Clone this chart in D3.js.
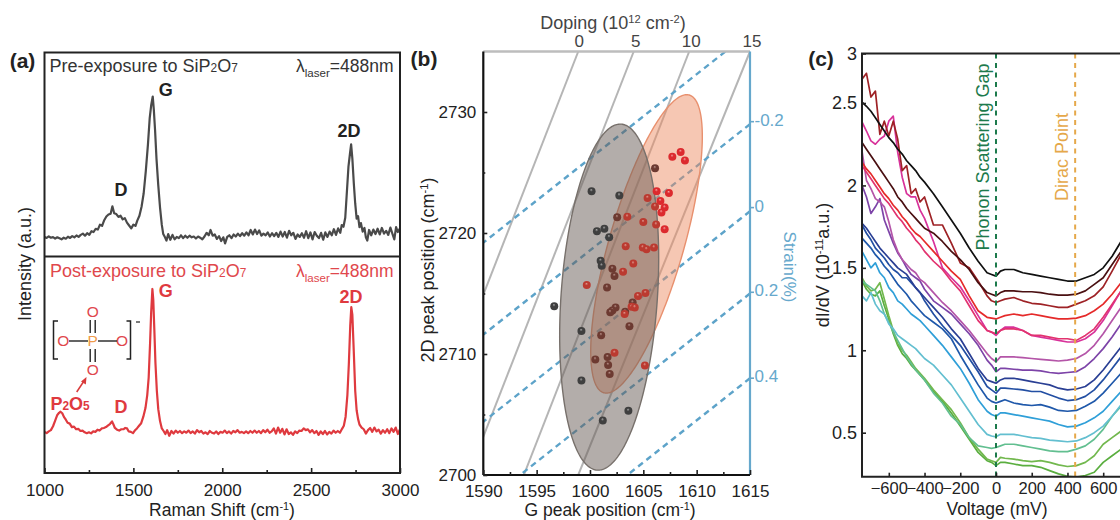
<!DOCTYPE html>
<html><head><meta charset="utf-8">
<script src="https://cdn.jsdelivr.net/npm/d3@7"></script>
<style>
html,body{margin:0;padding:0;background:#fff;overflow:hidden}
svg{display:block}
text{font-family:"Liberation Sans",Arial,sans-serif}
</style></head><body>
<svg id="c" width="1120" height="520"></svg>
<script>
// ---------- panel (a) data: [Raman shift, intensity a.u.]
const preSpectrum=[[1000,9.6],[1012,9.1],[1024,9.9],[1036,9.2],[1048,9.5],[1060,8.8],[1072,9.4],[1084,8.9],[1096,8.4],[1108,9.2],[1120,8.7],[1132,9.7],[1144,9.1],[1156,10],[1168,9.4],[1180,10.3],[1192,9.6],[1204,10.6],[1216,11.2],[1228,10.2],[1240,11.4],[1252,10.6],[1264,12.4],[1276,12],[1288,13.6],[1300,13.2],[1312,15.6],[1324,15],[1336,17.8],[1348,19.6],[1360,20.6],[1372,21],[1382,24.6],[1392,21.2],[1404,20.8],[1416,19.4],[1428,20],[1440,18.2],[1452,18.8],[1464,16.6],[1476,15.2],[1488,13.8],[1500,15.6],[1512,15],[1522,17.6],[1534,20],[1546,24.4],[1558,31],[1570,42],[1582,55],[1592,68],[1600,74],[1609,78.4],[1615,72],[1622,62],[1630,48],[1640,35],[1650,24],[1660,15.5],[1668,11],[1678,9.4],[1686,7.8],[1696,11],[1708,8.2],[1720,10.6],[1732,8.4],[1744,9.6],[1756,9],[1768,10.4],[1780,9],[1792,10.2],[1804,9.2],[1816,10.2],[1828,9.4],[1840,9.8],[1852,8.8],[1864,9.8],[1876,9.2],[1888,8.4],[1900,9.8],[1912,11.6],[1924,10.4],[1934,13],[1946,10.2],[1958,10.8],[1970,8.6],[1982,10],[1994,7.6],[2006,9.4],[2016,6.4],[2028,9.6],[2040,10.4],[2052,9],[2064,10.8],[2076,9.8],[2088,11.2],[2100,10],[2112,11.4],[2124,10.2],[2136,11.8],[2148,10.4],[2160,13],[2172,10.8],[2184,13.2],[2196,11],[2208,12.8],[2220,10.2],[2232,11.2],[2244,10.4],[2256,11.8],[2268,9.8],[2280,11.4],[2292,10],[2304,11.6],[2316,9.6],[2328,12.2],[2340,9.8],[2352,12],[2364,9.2],[2376,12.6],[2388,10.4],[2400,11.6],[2412,8.6],[2424,10.8],[2436,9.6],[2448,11.4],[2460,9.2],[2472,12.4],[2484,9],[2496,11.8],[2508,8.4],[2520,12],[2532,10.2],[2544,9],[2556,11.6],[2568,8.2],[2580,11.8],[2592,9.6],[2604,12.2],[2616,10.4],[2628,13.4],[2640,10.6],[2652,13.8],[2664,11.6],[2672,15.4],[2682,14.6],[2692,19],[2700,30],[2710,44],[2718,50],[2725,55],[2732,48],[2740,36],[2748,26],[2756,18.6],[2764,19.8],[2772,14.4],[2780,16.4],[2790,12.2],[2800,14],[2808,9.4],[2816,7.8],[2826,13],[2838,10.4],[2850,13.2],[2862,11],[2874,13.6],[2886,10.8],[2898,14],[2910,11.2],[2922,12.6],[2934,10.6],[2946,14.2],[2958,11],[2968,8.4],[2978,14.4],[2988,12],[3000,13.8]];
const postSpectrum=[[1000,19],[1012,18.4],[1024,19.2],[1036,19.8],[1048,21.6],[1060,24.2],[1072,26.8],[1082,27.8],[1090,28.3],[1100,27.6],[1110,25.8],[1120,24.6],[1130,23.2],[1142,22.8],[1154,21.2],[1166,21.4],[1178,20.2],[1190,20.4],[1202,19.4],[1214,19.6],[1226,18.8],[1238,18.4],[1250,18.8],[1262,18.3],[1274,19.2],[1286,19],[1298,20],[1310,19.6],[1322,20.6],[1334,20.8],[1346,21.2],[1358,22],[1368,22.6],[1380,23.8],[1388,22.4],[1396,20.8],[1408,20],[1420,19.6],[1432,20.2],[1444,20.2],[1454,20.8],[1464,20.6],[1474,19.2],[1486,19],[1498,18.4],[1508,19.6],[1520,20.6],[1532,21.8],[1544,23],[1556,26],[1568,30],[1578,36],[1586,44],[1594,60],[1600,74],[1607,85],[1612,80],[1618,66],[1624,51],[1632,38],[1640,29.5],[1650,24],[1660,20.6],[1670,19.4],[1680,18],[1690,19.8],[1702,17.2],[1714,19.4],[1726,18.2],[1738,19.6],[1750,18.6],[1762,19.4],[1774,18.4],[1786,19.2],[1798,18.6],[1810,19.6],[1822,18.4],[1834,19.2],[1846,18.2],[1858,19.8],[1870,18.8],[1882,19.4],[1894,18.2],[1906,18.8],[1918,18],[1930,19.4],[1942,18.6],[1954,18.2],[1966,19.2],[1978,18],[1990,19],[2002,18.6],[2014,19.6],[2026,18.4],[2038,19.2],[2050,18.2],[2062,19.4],[2074,18.8],[2086,19.8],[2098,18.6],[2110,19],[2122,18.4],[2134,19.2],[2146,18.4],[2158,19.4],[2170,18.6],[2182,19.6],[2194,18.6],[2206,19.4],[2218,18.4],[2230,19.8],[2242,18.8],[2254,20],[2266,18.6],[2278,19.2],[2290,20.6],[2302,18.2],[2314,21],[2326,18.6],[2338,20.4],[2350,17.8],[2362,20.2],[2374,18],[2386,18.8],[2398,17.6],[2410,19.2],[2422,18.4],[2434,19.6],[2446,19.4],[2458,20.6],[2470,19.8],[2482,20.2],[2494,18.8],[2506,19.8],[2518,18.4],[2530,19.4],[2542,17.6],[2554,19.2],[2566,18],[2578,19.4],[2590,17.8],[2602,19],[2614,18.2],[2626,19.6],[2638,18.6],[2650,19.4],[2662,18.6],[2674,20.4],[2684,21.8],[2694,26],[2704,36],[2712,50],[2720,68],[2726,76.6],[2732,73],[2740,56],[2748,38],[2756,29],[2764,25],[2772,22.4],[2784,21],[2796,20.2],[2808,18.2],[2820,19.8],[2832,20.8],[2844,19],[2856,21],[2868,19.2],[2880,20],[2892,18.2],[2904,19.8],[2916,18.6],[2928,20.2],[2940,18.4],[2952,20.6],[2964,19],[2976,21],[2988,18],[3000,20.2]];
const ramanTicks=[1000,1500,2000,2500,3000];
const ramanMinorTicks=[1250,1750,2250,2750];

// ---------- panel (b) data
const darkG=[1606.1,1600.15,1602.75,1602.55,1601.35,1600.65,1601.8,1601.0,1601.1,1602.1,1602.3,1601.6,1596.65,1604.0,1602.4,1602.1,1601.9,1603.3,1603.7,1599.2,1601.05,1600.5,1601.65,1601.7,1601.85,1599.2,1603.6,1601.2];
const dark2D=[2725.35,2723.45,2723.1,2721.3,2720.35,2720.15,2719.65,2717.7,2717.3,2717.05,2716.45,2715.5,2713.95,2714.25,2713.85,2713.6,2713.45,2713.5,2712.3,2711.9,2711.55,2709.55,2709.75,2709.1,2708.35,2707.8,2705.3,2704.5];
const redG=[1607.72,1608.5,1608.9,1606.25,1607.4,1605.4,1606.6,1606.1,1607.0,1606.7,1603.5,1605.0,1606.2,1607.0,1603.35,1604.95,1605.3,1606.0,1604.06,1603.1,1599.7,1604.5,1605.2,1603.9,1604.2,1603.25,1602.3,1605.15];
const red2D=[2726.3,2726.7,2726.0,2723.45,2723.3,2722.9,2722.65,2722.2,2722.1,2721.7,2721.35,2720.9,2720.7,2720.3,2718.9,2718.8,2718.65,2718.8,2717.47,2716.8,2715.7,2714.8,2715.05,2713.9,2713.85,2713.3,2710.1,2709.05];
const dopingLabels=[0,5,10,15];
const dopingTopG=[1598.9,1604.1,1609.3,1615];
const dopingBottomG=[1583.4,1588.6,1593.8,1598.9];
const strainLabels=["",-0.2,0,0.2,0.4];
const strainRight2D=[2736.6,2729,2721.8,2715,2708];
const strainLeft2D=[2719.2,2711.6,2704.4,2697.6,2690.6];
const strainLabel2D=[null,2729.2,2722.1,2715.1,2708];
const gTicks=[1590,1595,1600,1605,1610,1615];
const gMinorTicks=[1592.5,1597.5,1602.5,1607.5,1612.5];
const peak2DTicks=[2700,2710,2720,2730];
const peak2DMinorTicks=[2705,2715,2725];
// ellipse: centre G, centre 2D, half-width, half-height, correlation
const grayEllipse=[1601.8,2714.7,4.64,14.3,0.222];
const salmonEllipse=[1605.3,2719.1,5.23,12.33,0.72];

// ---------- panel (c) data
const voltage=[-750,-725,-700,-675,-650,-625,-600,-575,-550,-525,-500,-475,-450,-425,-400,-350,-300,-250,-200,-150,-100,-50,-25,0,25,50,100,150,200,250,300,350,400,450,500,550,600,650,700];
const blackDIdV=[2.51,2.48,2.45,2.41,2.37,2.33,2.29,2.26,2.22,2.19,2.15,2.12,2.09,2.05,2.02,1.95,1.87,1.79,1.71,1.62,1.54,1.47,1.46,1.45,1.48,1.49,1.49,1.47,1.46,1.45,1.44,1.43,1.42,1.42,1.44,1.46,1.50,1.57,1.66];
const maroonDIdV=[2.26,2.22,2.18,2.14,2.10,2.06,2.02,1.98,1.93,1.90,1.86,1.83,1.80,1.77,1.74,1.71,1.66,1.60,1.55,1.49,1.41,1.35,1.34,1.33,1.35,1.36,1.36,1.355,1.355,1.35,1.34,1.335,1.335,1.34,1.36,1.40,1.44,1.52,1.60];
const brownDIdV=[2.74,2.80,2.56,2.62,2.31,2.39,2.30,2.39,2.28,2.09,2.12,1.95,1.98,1.90,1.93,1.76,1.76,1.65,1.53,1.50,1.42,1.33,1.30,1.29,1.30,1.31,1.32,1.30,1.285,1.28,1.27,1.26,1.26,1.28,1.30,1.33,1.385,1.48,1.58];
const redDIdV=[2.14,2.10,2.07,2.03,1.99,1.95,1.92,1.88,1.85,1.81,1.78,1.74,1.71,1.69,1.66,1.60,1.54,1.48,1.43,1.33,1.24,1.20,1.195,1.19,1.20,1.21,1.22,1.21,1.22,1.21,1.20,1.19,1.19,1.195,1.21,1.24,1.28,1.34,1.41];
const pinkDIdV=[2.12,2.08,2.04,2.00,1.96,1.92,1.89,1.85,1.81,1.78,1.74,1.71,1.67,1.64,1.60,1.54,1.49,1.42,1.36,1.27,1.18,1.12,1.11,1.10,1.12,1.13,1.13,1.12,1.09,1.09,1.08,1.07,1.07,1.06,1.09,1.13,1.20,1.28,1.36];
const magentaDIdV=[2.385,2.33,2.27,2.25,2.28,2.30,2.39,2.42,2.20,2.05,1.95,1.93,1.93,1.85,1.80,1.66,1.50,1.44,1.385,1.30,1.21,1.12,1.11,1.09,1.12,1.14,1.14,1.12,1.09,1.08,1.07,1.06,1.05,1.05,1.07,1.11,1.18,1.27,1.36];
const orchidDIdV=[2.21,2.03,1.98,1.92,1.90,1.87,1.78,1.67,1.60,1.55,1.52,1.49,1.47,1.43,1.41,1.35,1.29,1.24,1.18,1.12,1.05,0.98,0.95,0.93,0.96,0.96,0.96,0.955,0.95,0.945,0.94,0.935,0.94,0.95,0.98,1.03,1.10,1.18,1.26];
const purpleDIdV=[2.0,1.93,1.83,1.87,1.92,1.79,1.72,1.65,1.59,1.55,1.50,1.46,1.44,1.42,1.37,1.30,1.26,1.22,1.16,1.10,1.03,0.94,0.91,0.87,0.89,0.89,0.885,0.88,0.88,0.875,0.865,0.86,0.865,0.87,0.90,0.95,1.01,1.08,1.16];
const navyDIdV=[1.77,1.74,1.70,1.66,1.62,1.59,1.56,1.53,1.50,1.48,1.46,1.42,1.38,1.35,1.32,1.26,1.20,1.13,1.07,0.98,0.89,0.82,0.81,0.80,0.82,0.83,0.83,0.82,0.81,0.80,0.79,0.77,0.76,0.765,0.78,0.82,0.88,0.95,1.02];
const blueDIdV=[1.76,1.71,1.67,1.62,1.59,1.56,1.52,1.49,1.47,1.44,1.44,1.41,1.38,1.35,1.30,1.22,1.15,1.09,1.03,0.95,0.87,0.78,0.76,0.74,0.77,0.77,0.765,0.76,0.75,0.75,0.73,0.71,0.695,0.70,0.72,0.76,0.82,0.89,0.96];
const royalDIdV=[1.68,1.65,1.62,1.58,1.55,1.51,1.48,1.44,1.40,1.37,1.34,1.30,1.27,1.24,1.21,1.17,1.13,1.07,0.97,0.88,0.79,0.71,0.69,0.68,0.69,0.70,0.68,0.67,0.665,0.67,0.655,0.635,0.63,0.635,0.66,0.69,0.74,0.80,0.86];
const skyDIdV=[1.60,1.55,1.50,1.53,1.47,1.44,1.38,1.35,1.30,1.28,1.25,1.22,1.20,1.18,1.15,1.09,1.03,0.96,0.89,0.80,0.70,0.63,0.61,0.60,0.62,0.62,0.61,0.60,0.59,0.58,0.57,0.55,0.535,0.54,0.56,0.59,0.63,0.69,0.75];
const tealDIdV=[1.33,1.30,1.35,1.28,1.24,1.22,1.16,1.13,1.09,1.07,1.05,1.03,1.01,0.98,0.95,0.91,0.85,0.79,0.71,0.63,0.55,0.49,0.48,0.475,0.49,0.49,0.49,0.48,0.47,0.465,0.455,0.45,0.445,0.45,0.47,0.50,0.54,0.60,0.67];
const mintDIdV=[1.42,1.40,1.38,1.36,1.30,1.22,1.17,1.11,1.06,1.01,0.96,0.92,0.88,0.85,0.82,0.74,0.68,0.60,0.55,0.47,0.42,0.41,0.405,0.41,0.42,0.43,0.43,0.42,0.41,0.40,0.39,0.385,0.385,0.40,0.42,0.46,0.52,0.60,0.66];
const limeDIdV=[1.44,1.39,1.36,1.37,1.41,1.31,1.21,1.12,1.04,1.00,0.97,0.93,0.89,0.86,0.83,0.76,0.70,0.64,0.56,0.47,0.40,0.34,0.33,0.32,0.35,0.345,0.34,0.33,0.325,0.33,0.32,0.305,0.295,0.30,0.32,0.36,0.43,0.47,0.51];
const greenDIdV=[1.42,1.37,1.34,1.33,1.36,1.27,1.19,1.10,1.03,0.98,0.95,0.91,0.88,0.85,0.82,0.75,0.69,0.62,0.54,0.46,0.38,0.33,0.32,0.30,0.32,0.32,0.31,0.30,0.30,0.29,0.27,0.25,0.235,0.23,0.24,0.26,0.32,0.36,0.40];
const curveSeries=[greenDIdV,limeDIdV,mintDIdV,tealDIdV,skyDIdV,royalDIdV,blueDIdV,navyDIdV,purpleDIdV,orchidDIdV,magentaDIdV,pinkDIdV,redDIdV,brownDIdV,maroonDIdV,blackDIdV];
const curveColors=["#5aae3f","#72b84e","#62bf90","#63bfd0","#2f9fd8","#1f58aa","#234fa3","#2a3f94","#7d44a8","#b455a8","#d8329a","#e2336f","#e52a2a","#9e2226","#4a1012","#111111"];
const voltageTicks=[-600,-400,-200,0,200,400,600];
const dIdVTicks=[0.5,1,1.5,2,2.5,3];
const phononVoltage=0, diracVoltage=443;

// ---------- drawing
const svg=d3.select("#c");
const defs=svg.append("defs");
function ballGrad(id,c0,c1){const g=defs.append("radialGradient").attr("id",id).attr("cx","50%").attr("cy","50%").attr("r","55%").attr("fx","45%").attr("fy","30%");
 g.append("stop").attr("offset","0%").attr("stop-color",c0);g.append("stop").attr("offset","35%").attr("stop-color",c1);g.append("stop").attr("offset","100%").attr("stop-color",c1);}
ballGrad("ballDark","#a8a8a8","#3f3f3f");ballGrad("ballBrown","#b89088","#6d3a31");
ballGrad("ballRed","#f6a0a0","#dc2a2e");ballGrad("ballDull","#e09a90","#bb3a30");
function clip(id,x,y,w,h){defs.append("clipPath").attr("id",id).append("rect").attr("x",x).attr("y",y).attr("width",w).attr("height",h);}

const INK="#222";
function label(g,x,y,parts,o={}){
 const size=o.size||18;
 const t=g.append("text").attr("x",x).attr("y",y).attr("font-size",size).attr("fill",o.fill||INK)
  .attr("text-anchor",o.anchor||"middle").attr("font-weight",o.weight||null);
 if(o.rotate!=null)t.attr("transform",`rotate(${o.rotate} ${x} ${y})`);
 (Array.isArray(parts)?parts:[[parts]]).forEach(([s,k])=>{
  const ts=t.append("tspan").text(s);
  if(k==="sup")ts.attr("font-size",size*0.62).attr("dy",-6);
  else if(k==="sub")ts.attr("font-size",size*0.66);
  else if(k==="low")ts.attr("font-size",size*0.66).attr("dy",5);
  else if(k==="back")ts.attr("dy",6);
  else if(k==="up")ts.attr("dy",-5);
 });
 return t;
}
function styleAxis(g,color,fs){
 g.select(".domain").remove();
 g.selectAll(".tick line").attr("stroke",color).attr("stroke-width",1.6);
 g.selectAll(".tick text").attr("fill",INK).attr("font-size",fs).attr("font-family",'"Liberation Sans",Arial,sans-serif');
}

// ===== panel a
const A={l:44.5,r:400,t:52.5,m:256.5,b:473};
const ax=d3.scaleLinear().domain([1000,3000]).range([A.l,A.r]);
const ayTop=d3.scaleLinear().domain([0,100]).range([A.m,A.t]);
const ayBot=d3.scaleLinear().domain([0,100]).range([A.b,A.m]);
const pa=svg.append("g");
pa.append("path").attr("fill","none").attr("stroke","#4a4a4a").attr("stroke-width",2.2).attr("stroke-linejoin","round")
 .attr("d",d3.line().x(d=>ax(d[0])).y(d=>ayTop(d[1]))(preSpectrum));
pa.append("path").attr("fill","none").attr("stroke","#df3a3f").attr("stroke-width",2.2).attr("stroke-linejoin","round")
 .attr("d",d3.line().x(d=>ax(d[0])).y(d=>ayBot(d[1]))(postSpectrum));
pa.append("rect").attr("x",A.l).attr("y",A.t).attr("width",A.r-A.l).attr("height",A.b-A.t).attr("fill","none").attr("stroke",INK).attr("stroke-width",2);
pa.append("line").attr("x1",A.l).attr("x2",A.r).attr("y1",A.m).attr("y2",A.m).attr("stroke",INK).attr("stroke-width",2);
let axg=pa.append("g").attr("transform",`translate(0,${A.b})`).call(d3.axisBottom(ax).tickValues(ramanTicks).tickFormat(d3.format("d")).tickSize(-5).tickPadding(11));
styleAxis(axg,INK,17);
let axm=pa.append("g").attr("transform",`translate(0,${A.b})`).call(d3.axisBottom(ax).tickValues(ramanMinorTicks).tickFormat("").tickSize(-3));
styleAxis(axm,INK,17);
label(pa,49.5,72,[["Pre-exposure to SiP"],["2","sub"],["O"],["7","sub"]],{anchor:"start",fill:"#333"});
label(pa,296,72,[["λ"],["laser","low"],["=488nm","up"]],{anchor:"start",fill:"#333",size:17.5});
label(pa,50,277,[["Post-exposure to SiP"],["2","sub"],["O"],["7","sub"]],{anchor:"start",fill:"#e0474c"});
label(pa,296,277,[["λ"],["laser","low"],["=488nm","up"]],{anchor:"start",fill:"#e0474c",size:17.5});
const bold={weight:"bold",size:18};
label(pa,165.7,96,"G",bold);label(pa,121,196,"D",bold);label(pa,349,137,"2D",bold);
const rb={weight:"bold",size:18,fill:"#df3a3f"};
label(pa,165.7,297,"G",rb);label(pa,351,303,"2D",rb);label(pa,121,413,"D",rb);
label(pa,70,410,[["P"],["2","sub"],["O"],["5","sub"]],rb);
label(pa,22.5,68,"(a)",{weight:"bold",size:21,fill:"#222"});
label(pa,31,264,"Intensity (a.u.)",{rotate:-90});
label(pa,222,515.5,[["Raman Shift (cm"],["-1","sup"],[")","back"]],{size:17.5});
// molecule inset
const mo={size:15.5,fill:"#e0474c"};
label(pa,92.7,317,"O",mo);label(pa,63.3,346,"O",mo);label(pa,122,346,"O",mo);label(pa,92.7,375,"O",mo);
label(pa,92.7,346,"P",{size:15.5,fill:"#ef9b4a"});
const bonds=[[69,341,88,341],[98,341,117,341],[90.2,320,90.2,333],[95.2,320,95.2,333],[90.2,349,90.2,362],[95.2,349,95.2,362]];
pa.selectAll(".bond").data(bonds).join("line").attr("x1",d=>d[0]).attr("y1",d=>d[1]).attr("x2",d=>d[2]).attr("y2",d=>d[3]).attr("stroke","#222").attr("stroke-width",1.4);
pa.append("path").attr("fill","none").attr("stroke","#222").attr("stroke-width",1.5).attr("d","M58,321H53.5V359H58M126.5,321H130.5V359H126.5");
pa.append("line").attr("x1",136).attr("x2",140).attr("y1",322).attr("y2",322).attr("stroke","#222").attr("stroke-width",1.2);
pa.append("path").attr("fill","none").attr("stroke","#d93a3a").attr("stroke-width",1.5).attr("d","M76.7,392L84,381");
pa.append("path").attr("fill","#d93a3a").attr("d","M86.5,377L85.8,384.5L81,381.5Z");

// ===== panel b
const B={l:483.3,r:750,t:51.5,b:475};
const bx=d3.scaleLinear().domain([1590,1615]).range([B.l,B.r]);
const by=d3.scaleLinear().domain([2700,2735]).range([B.b,B.t]);
clip("clipB",B.l,B.t,B.r-B.l,B.b-B.t);
const pb=svg.append("g");
const inner=pb.append("g").attr("clip-path","url(#clipB)");
dopingTopG.forEach((g,i)=>{inner.append("line").attr("x1",bx(g)).attr("y1",by(2735)).attr("x2",bx(dopingBottomG[i])).attr("y2",by(2700)).attr("stroke","#b5b5b5").attr("stroke-width",2);});
strainRight2D.forEach((v,i)=>{inner.append("line").attr("x1",bx(1615)).attr("y1",by(v)).attr("x2",bx(1590)).attr("y2",by(strainLeft2D[i])).attr("stroke","#5da3c9").attr("stroke-width",2.4).attr("stroke-dasharray","6 4.5");});
function ellipsePath(e){const [cx,cy,hw,hh,rho]=e;
 const ts=d3.range(0,2*Math.PI+0.02,0.02);
 return d3.line().x(t=>bx(cx+hw*Math.cos(t))).y(t=>by(cy+hh*(rho*Math.cos(t)+Math.sqrt(1-rho*rho)*Math.sin(t))))(ts)+"Z";}
function inside(e,g,d){const u=(g-e[0])/e[2],v=(d-e[1])/e[3],r=e[4];return (u*u-2*r*u*v+v*v)/(1-r*r)<=1;}
inner.append("path").attr("d",ellipsePath(salmonEllipse)).attr("fill","#ec8a60").attr("fill-opacity",0.48).attr("stroke","#e8906e").attr("stroke-width",1.4);
inner.append("path").attr("d",ellipsePath(grayEllipse)).attr("fill","#675c56").attr("fill-opacity",0.5).attr("stroke","#77706b").attr("stroke-width",1.4);
inner.selectAll(".dk").data(darkG).join("circle").attr("cx",d=>bx(d)).attr("cy",(d,i)=>by(dark2D[i])).attr("r",4)
 .attr("fill",(d,i)=>inside(salmonEllipse,d,dark2D[i])?"url(#ballBrown)":"url(#ballDark)");
inner.selectAll(".rd").data(redG).join("circle").attr("cx",d=>bx(d)).attr("cy",(d,i)=>by(red2D[i])).attr("r",4)
 .attr("fill",(d,i)=>inside(grayEllipse,d,red2D[i])?"url(#ballDull)":"url(#ballRed)");
// frame
pb.append("line").attr("x1",B.l).attr("x2",B.r).attr("y1",B.t).attr("y2",B.t).attr("stroke","#bdbdbd").attr("stroke-width",2.4);
pb.append("line").attr("x1",B.r).attr("x2",B.r).attr("y1",B.t).attr("y2",B.b).attr("stroke","#66a8cc").attr("stroke-width",2.2);
pb.append("line").attr("x1",B.l).attr("x2",B.l).attr("y1",B.t).attr("y2",B.b).attr("stroke","#111").attr("stroke-width",2.2);
pb.append("line").attr("x1",B.l).attr("x2",B.r).attr("y1",B.b).attr("y2",B.b).attr("stroke","#111").attr("stroke-width",2.2);
let g1=pb.append("g").attr("transform",`translate(0,${B.b})`).call(d3.axisBottom(bx).tickValues(gTicks).tickFormat(d3.format("d")).tickSize(-5).tickPadding(10));styleAxis(g1,INK,17);
let g2=pb.append("g").attr("transform",`translate(0,${B.b})`).call(d3.axisBottom(bx).tickValues(gMinorTicks).tickFormat("").tickSize(-3));styleAxis(g2,INK,17);
let g3=pb.append("g").attr("transform",`translate(${B.l},0)`).call(d3.axisLeft(by).tickValues(peak2DTicks).tickFormat(d3.format("d")).tickSize(-4).tickPadding(7));styleAxis(g3,INK,17);
let g4=pb.append("g").attr("transform",`translate(${B.l},0)`).call(d3.axisLeft(by).tickValues(peak2DMinorTicks).tickFormat("").tickSize(-2));styleAxis(g4,INK,17);
dopingLabels.forEach((d,i)=>label(pb,bx(dopingTopG[i])+(i?2:1),47,String(d),{size:17,fill:"#444"}));
strainLabels.forEach((s,i)=>{if(strainLabel2D[i]==null)return;
 pb.append("line").attr("x1",B.r).attr("x2",B.r+4).attr("y1",by(strainLabel2D[i])).attr("y2",by(strainLabel2D[i])).attr("stroke","#66a8cc").attr("stroke-width",1.6);
 label(pb,754.5,by(strainLabel2D[i])+4,String(s),{anchor:"start",size:17,fill:"#66a8cc"});});
label(pb,783.5,267,"Strain(%)",{rotate:90,size:17,fill:"#66a8cc"});
label(pb,613,29,[["Doping (10"],["12","sup"],["  cm","back"],["-2","sup"],[")","back"]],{fill:"#444"});
label(pb,610,515.5,[["G peak position (cm"],["-1","sup"],[")","back"]],{size:17.5});
label(pb,434,270,[["2D peak position (cm"],["-1","sup"],[")","back"]],{rotate:-90});
label(pb,424,66,"(b)",{weight:"bold",size:21});

// ===== panel c
const C={l:862,r:1130,t:53.5,b:476.7};
const cx=d3.scaleLinear().domain([-750,750]).range([C.l,C.r]);
const cy=d3.scaleLinear().domain([0.233,2.5,3]).range([C.b,103,C.t]);
clip("clipC",C.l,C.t,C.r-C.l,C.b-C.t);
const pc=svg.append("g");
const ci=pc.append("g").attr("clip-path","url(#clipC)");
const cLine=d3.line().x((d,i)=>cx(voltage[i])).y(d=>cy(d));
curveSeries.forEach((s,i)=>ci.append("path").attr("fill","none").attr("stroke",curveColors[i]).attr("stroke-width",1.7).attr("stroke-linejoin","round").attr("d",cLine(s)));
ci.append("line").attr("x1",cx(phononVoltage)).attr("x2",cx(phononVoltage)).attr("y1",C.t).attr("y2",C.b).attr("stroke","#1d7a4c").attr("stroke-width",2).attr("stroke-dasharray","5 4.5");
ci.append("line").attr("x1",cx(diracVoltage)).attr("x2",cx(diracVoltage)).attr("y1",C.t).attr("y2",C.b).attr("stroke","#e5a84a").attr("stroke-width",2).attr("stroke-dasharray","5 4.5");
pc.append("path").attr("fill","none").attr("stroke",INK).attr("stroke-width",2).attr("d",`M${C.r},${C.t}H${C.l}V${C.b}H${C.r}`);
let c1=pc.append("g").attr("transform",`translate(0,${C.b})`).call(d3.axisBottom(cx).tickValues(voltageTicks).tickFormat(d3.format("d")).tickSize(-4).tickPadding(6));styleAxis(c1,INK,16.5);
let c2=pc.append("g").attr("transform",`translate(${C.l},0)`).call(d3.axisLeft(cy).tickValues(dIdVTicks).tickFormat(d=>String(d)).tickSize(-4).tickPadding(5));styleAxis(c2,INK,18);
label(pc,989,157,"Phonon Scattering Gap",{rotate:-90,fill:"#1d7a4c"});
label(pc,1068,157,"Dirac Point",{rotate:-90,fill:"#e5a84a"});
label(pc,997,515,"Voltage (mV)",{size:17.5});
label(pc,829,265,[["dI/dV (10"],["-11","sup"],["a.u.)","back"]],{rotate:-90});
label(pc,821,66,"(c)",{weight:"bold",size:21});
</script>
</body></html>
